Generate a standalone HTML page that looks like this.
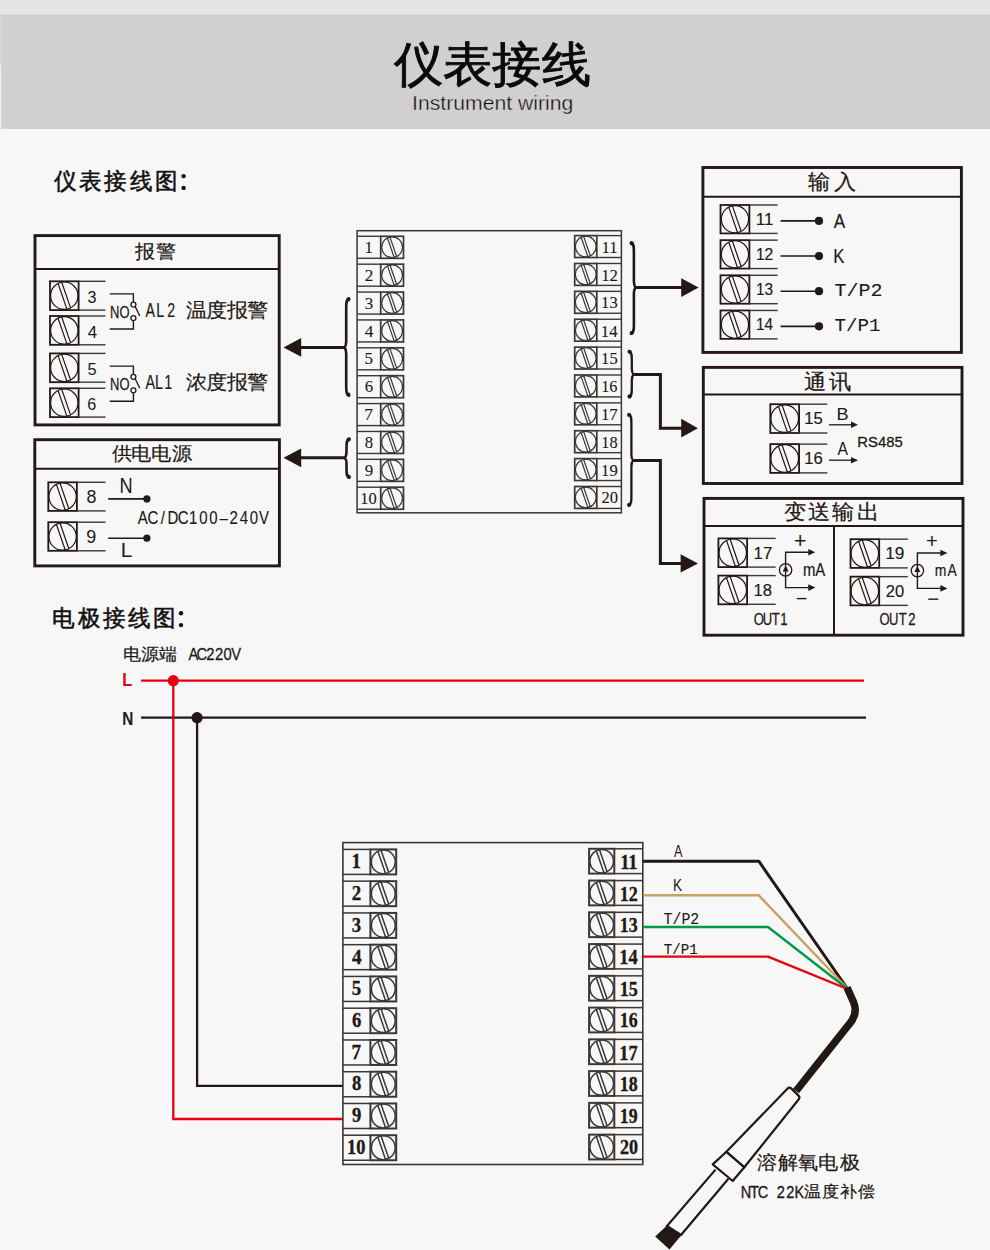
<!DOCTYPE html>
<html><head><meta charset="utf-8"><style>
html,body{margin:0;padding:0;background:#f7f7f7;}
svg{display:block;}
text{white-space:pre;}
</style></head><body>
<svg width="990" height="1250" viewBox="0 0 990 1250">
<rect width="990" height="1250" fill="#f7f7f7"/>
<rect x="0" y="0" width="990" height="14.5" fill="#e5e5e5"/>
<rect x="0" y="14.5" width="990" height="114.5" fill="#d1cfd0"/>
<rect x="0" y="14.5" width="1.2" height="50" fill="#dad8d9"/>
<rect x="0" y="64.5" width="1.2" height="64.5" fill="#efefef"/>
<circle cx="183.6" cy="176.1" r="2.2" fill="#111"/>
<circle cx="183.6" cy="187.9" r="2.2" fill="#111"/>
<circle cx="181" cy="613.2" r="2.2" fill="#111"/>
<circle cx="181" cy="625.1" r="2.2" fill="#111"/>
<rect x="35" y="235.6" width="244.2" height="189.3" stroke="#231815" stroke-width="2.9" fill="none"/>
<line x1="35" y1="268.9" x2="279.2" y2="268.9" stroke="#231815" stroke-width="2" stroke-linecap="butt"/>
<rect x="50" y="281.3" width="28.6" height="28.8" stroke="#231815" stroke-width="1.8" fill="none"/>
<circle cx="64.3" cy="295.7" r="13.7" stroke="#231815" stroke-width="1.2" fill="none"/>
<line x1="58.07" y1="283.5" x2="66.9" y2="309.15" stroke="#231815" stroke-width="1.2" stroke-linecap="butt"/>
<line x1="61.7" y1="282.25" x2="70.53" y2="307.9" stroke="#231815" stroke-width="1.2" stroke-linecap="butt"/>
<line x1="78.6" y1="281.3" x2="105.5" y2="281.3" stroke="#3b3735" stroke-width="1.4" stroke-linecap="butt"/>
<line x1="78.6" y1="310.1" x2="105.5" y2="310.1" stroke="#3b3735" stroke-width="1.4" stroke-linecap="butt"/>
<rect x="50" y="316" width="28.6" height="28.8" stroke="#231815" stroke-width="1.8" fill="none"/>
<circle cx="64.3" cy="330.4" r="13.7" stroke="#231815" stroke-width="1.2" fill="none"/>
<line x1="58.07" y1="318.2" x2="66.9" y2="343.85" stroke="#231815" stroke-width="1.2" stroke-linecap="butt"/>
<line x1="61.7" y1="316.95" x2="70.53" y2="342.6" stroke="#231815" stroke-width="1.2" stroke-linecap="butt"/>
<line x1="78.6" y1="316" x2="105.5" y2="316" stroke="#3b3735" stroke-width="1.4" stroke-linecap="butt"/>
<line x1="78.6" y1="344.8" x2="105.5" y2="344.8" stroke="#3b3735" stroke-width="1.4" stroke-linecap="butt"/>
<rect x="50" y="353.4" width="28.6" height="28.8" stroke="#231815" stroke-width="1.8" fill="none"/>
<circle cx="64.3" cy="367.8" r="13.7" stroke="#231815" stroke-width="1.2" fill="none"/>
<line x1="58.07" y1="355.6" x2="66.9" y2="381.25" stroke="#231815" stroke-width="1.2" stroke-linecap="butt"/>
<line x1="61.7" y1="354.35" x2="70.53" y2="380" stroke="#231815" stroke-width="1.2" stroke-linecap="butt"/>
<line x1="78.6" y1="353.4" x2="105.5" y2="353.4" stroke="#3b3735" stroke-width="1.4" stroke-linecap="butt"/>
<line x1="78.6" y1="382.2" x2="105.5" y2="382.2" stroke="#3b3735" stroke-width="1.4" stroke-linecap="butt"/>
<rect x="50" y="388.3" width="28.6" height="28.8" stroke="#231815" stroke-width="1.8" fill="none"/>
<circle cx="64.3" cy="402.7" r="13.7" stroke="#231815" stroke-width="1.2" fill="none"/>
<line x1="58.07" y1="390.5" x2="66.9" y2="416.15" stroke="#231815" stroke-width="1.2" stroke-linecap="butt"/>
<line x1="61.7" y1="389.25" x2="70.53" y2="414.9" stroke="#231815" stroke-width="1.2" stroke-linecap="butt"/>
<line x1="78.6" y1="388.3" x2="105.5" y2="388.3" stroke="#3b3735" stroke-width="1.4" stroke-linecap="butt"/>
<line x1="78.6" y1="417.1" x2="105.5" y2="417.1" stroke="#3b3735" stroke-width="1.4" stroke-linecap="butt"/>
<polyline points="109.7,293.9 133.4,293.9 133.4,302" stroke="#231815" stroke-width="1.4" fill="none"/>
<polyline points="109.7,329 133.4,329 133.4,320.6" stroke="#231815" stroke-width="1.4" fill="none"/>
<circle cx="133.4" cy="304.6" r="2.5" stroke="#231815" stroke-width="1.3" fill="#f7f7f7"/>
<circle cx="133.4" cy="318.1" r="2.5" stroke="#231815" stroke-width="1.3" fill="#f7f7f7"/>
<line x1="135.2" y1="306.6" x2="139.8" y2="316" stroke="#231815" stroke-width="1.3" stroke-linecap="butt"/>
<polyline points="109.7,366.1 133.4,366.1 133.4,374.2" stroke="#231815" stroke-width="1.4" fill="none"/>
<polyline points="109.7,401.2 133.4,401.2 133.4,392.8" stroke="#231815" stroke-width="1.4" fill="none"/>
<circle cx="133.4" cy="376.8" r="2.5" stroke="#231815" stroke-width="1.3" fill="#f7f7f7"/>
<circle cx="133.4" cy="390.3" r="2.5" stroke="#231815" stroke-width="1.3" fill="#f7f7f7"/>
<line x1="135.2" y1="378.8" x2="139.8" y2="388.2" stroke="#231815" stroke-width="1.3" stroke-linecap="butt"/>
<rect x="34.8" y="439.7" width="244.6" height="126.2" stroke="#231815" stroke-width="2.9" fill="none"/>
<line x1="34.8" y1="468.7" x2="279.4" y2="468.7" stroke="#231815" stroke-width="2" stroke-linecap="butt"/>
<rect x="48.3" y="482.3" width="28.6" height="28.6" stroke="#231815" stroke-width="1.8" fill="none"/>
<circle cx="62.6" cy="496.6" r="13.7" stroke="#231815" stroke-width="1.2" fill="none"/>
<line x1="56.37" y1="484.4" x2="65.2" y2="510.05" stroke="#231815" stroke-width="1.2" stroke-linecap="butt"/>
<line x1="60" y1="483.15" x2="68.83" y2="508.8" stroke="#231815" stroke-width="1.2" stroke-linecap="butt"/>
<line x1="76.9" y1="482.3" x2="105.6" y2="482.3" stroke="#3b3735" stroke-width="1.4" stroke-linecap="butt"/>
<line x1="76.9" y1="510.9" x2="105.6" y2="510.9" stroke="#3b3735" stroke-width="1.4" stroke-linecap="butt"/>
<line x1="108.2" y1="498.9" x2="146.9" y2="498.9" stroke="#231815" stroke-width="1.6" stroke-linecap="butt"/>
<circle cx="146.9" cy="498.9" r="3.6" fill="#231815"/>
<rect x="48.3" y="522.2" width="28.6" height="28.6" stroke="#231815" stroke-width="1.8" fill="none"/>
<circle cx="62.6" cy="536.5" r="13.7" stroke="#231815" stroke-width="1.2" fill="none"/>
<line x1="56.37" y1="524.3" x2="65.2" y2="549.95" stroke="#231815" stroke-width="1.2" stroke-linecap="butt"/>
<line x1="60" y1="523.05" x2="68.83" y2="548.7" stroke="#231815" stroke-width="1.2" stroke-linecap="butt"/>
<line x1="76.9" y1="522.2" x2="105.6" y2="522.2" stroke="#3b3735" stroke-width="1.4" stroke-linecap="butt"/>
<line x1="76.9" y1="550.8" x2="105.6" y2="550.8" stroke="#3b3735" stroke-width="1.4" stroke-linecap="butt"/>
<line x1="108.2" y1="538.2" x2="146.9" y2="538.2" stroke="#231815" stroke-width="1.6" stroke-linecap="butt"/>
<circle cx="146.9" cy="538.2" r="3.6" fill="#231815"/>
<rect x="357.1" y="230.7" width="264.3" height="282.1" stroke="#3b3735" stroke-width="1.5" fill="none"/>
<line x1="357.1" y1="236.3" x2="380.7" y2="236.3" stroke="#3b3735" stroke-width="1.4" stroke-linecap="butt"/>
<line x1="357.1" y1="258.3" x2="380.7" y2="258.3" stroke="#3b3735" stroke-width="1.4" stroke-linecap="butt"/>
<rect x="380.7" y="236.3" width="22.8" height="22" stroke="#3b3735" stroke-width="1.7" fill="none"/>
<circle cx="392.1" cy="247.3" r="10.4" stroke="#3b3735" stroke-width="1.2" fill="none"/>
<line x1="387.49" y1="237.98" x2="394.21" y2="257.48" stroke="#3b3735" stroke-width="1.2" stroke-linecap="butt"/>
<line x1="389.99" y1="237.12" x2="396.71" y2="256.62" stroke="#3b3735" stroke-width="1.2" stroke-linecap="butt"/>
<rect x="574.7" y="235.6" width="22.1" height="21.9" stroke="#3b3735" stroke-width="1.7" fill="none"/>
<circle cx="585.75" cy="246.55" r="10.35" stroke="#3b3735" stroke-width="1.2" fill="none"/>
<line x1="581.17" y1="237.27" x2="587.85" y2="256.68" stroke="#3b3735" stroke-width="1.2" stroke-linecap="butt"/>
<line x1="583.65" y1="236.42" x2="590.33" y2="255.83" stroke="#3b3735" stroke-width="1.2" stroke-linecap="butt"/>
<line x1="596.8" y1="235.6" x2="621.4" y2="235.6" stroke="#3b3735" stroke-width="1.4" stroke-linecap="butt"/>
<line x1="596.8" y1="257.5" x2="621.4" y2="257.5" stroke="#3b3735" stroke-width="1.4" stroke-linecap="butt"/>
<line x1="357.1" y1="264.18" x2="380.7" y2="264.18" stroke="#3b3735" stroke-width="1.4" stroke-linecap="butt"/>
<line x1="357.1" y1="286.18" x2="380.7" y2="286.18" stroke="#3b3735" stroke-width="1.4" stroke-linecap="butt"/>
<rect x="380.7" y="264.18" width="22.8" height="22" stroke="#3b3735" stroke-width="1.7" fill="none"/>
<circle cx="392.1" cy="275.18" r="10.4" stroke="#3b3735" stroke-width="1.2" fill="none"/>
<line x1="387.49" y1="265.86" x2="394.21" y2="285.36" stroke="#3b3735" stroke-width="1.2" stroke-linecap="butt"/>
<line x1="389.99" y1="265" x2="396.71" y2="284.5" stroke="#3b3735" stroke-width="1.2" stroke-linecap="butt"/>
<rect x="574.7" y="263.48" width="22.1" height="21.9" stroke="#3b3735" stroke-width="1.7" fill="none"/>
<circle cx="585.75" cy="274.43" r="10.35" stroke="#3b3735" stroke-width="1.2" fill="none"/>
<line x1="581.17" y1="265.15" x2="587.85" y2="284.56" stroke="#3b3735" stroke-width="1.2" stroke-linecap="butt"/>
<line x1="583.65" y1="264.3" x2="590.33" y2="283.71" stroke="#3b3735" stroke-width="1.2" stroke-linecap="butt"/>
<line x1="596.8" y1="263.48" x2="621.4" y2="263.48" stroke="#3b3735" stroke-width="1.4" stroke-linecap="butt"/>
<line x1="596.8" y1="285.38" x2="621.4" y2="285.38" stroke="#3b3735" stroke-width="1.4" stroke-linecap="butt"/>
<line x1="357.1" y1="292.06" x2="380.7" y2="292.06" stroke="#3b3735" stroke-width="1.4" stroke-linecap="butt"/>
<line x1="357.1" y1="314.06" x2="380.7" y2="314.06" stroke="#3b3735" stroke-width="1.4" stroke-linecap="butt"/>
<rect x="380.7" y="292.06" width="22.8" height="22" stroke="#3b3735" stroke-width="1.7" fill="none"/>
<circle cx="392.1" cy="303.06" r="10.4" stroke="#3b3735" stroke-width="1.2" fill="none"/>
<line x1="387.49" y1="293.74" x2="394.21" y2="313.24" stroke="#3b3735" stroke-width="1.2" stroke-linecap="butt"/>
<line x1="389.99" y1="292.88" x2="396.71" y2="312.38" stroke="#3b3735" stroke-width="1.2" stroke-linecap="butt"/>
<rect x="574.7" y="291.36" width="22.1" height="21.9" stroke="#3b3735" stroke-width="1.7" fill="none"/>
<circle cx="585.75" cy="302.31" r="10.35" stroke="#3b3735" stroke-width="1.2" fill="none"/>
<line x1="581.17" y1="293.03" x2="587.85" y2="312.44" stroke="#3b3735" stroke-width="1.2" stroke-linecap="butt"/>
<line x1="583.65" y1="292.18" x2="590.33" y2="311.59" stroke="#3b3735" stroke-width="1.2" stroke-linecap="butt"/>
<line x1="596.8" y1="291.36" x2="621.4" y2="291.36" stroke="#3b3735" stroke-width="1.4" stroke-linecap="butt"/>
<line x1="596.8" y1="313.26" x2="621.4" y2="313.26" stroke="#3b3735" stroke-width="1.4" stroke-linecap="butt"/>
<line x1="357.1" y1="319.94" x2="380.7" y2="319.94" stroke="#3b3735" stroke-width="1.4" stroke-linecap="butt"/>
<line x1="357.1" y1="341.94" x2="380.7" y2="341.94" stroke="#3b3735" stroke-width="1.4" stroke-linecap="butt"/>
<rect x="380.7" y="319.94" width="22.8" height="22" stroke="#3b3735" stroke-width="1.7" fill="none"/>
<circle cx="392.1" cy="330.94" r="10.4" stroke="#3b3735" stroke-width="1.2" fill="none"/>
<line x1="387.49" y1="321.62" x2="394.21" y2="341.12" stroke="#3b3735" stroke-width="1.2" stroke-linecap="butt"/>
<line x1="389.99" y1="320.76" x2="396.71" y2="340.26" stroke="#3b3735" stroke-width="1.2" stroke-linecap="butt"/>
<rect x="574.7" y="319.24" width="22.1" height="21.9" stroke="#3b3735" stroke-width="1.7" fill="none"/>
<circle cx="585.75" cy="330.19" r="10.35" stroke="#3b3735" stroke-width="1.2" fill="none"/>
<line x1="581.17" y1="320.91" x2="587.85" y2="340.32" stroke="#3b3735" stroke-width="1.2" stroke-linecap="butt"/>
<line x1="583.65" y1="320.06" x2="590.33" y2="339.47" stroke="#3b3735" stroke-width="1.2" stroke-linecap="butt"/>
<line x1="596.8" y1="319.24" x2="621.4" y2="319.24" stroke="#3b3735" stroke-width="1.4" stroke-linecap="butt"/>
<line x1="596.8" y1="341.14" x2="621.4" y2="341.14" stroke="#3b3735" stroke-width="1.4" stroke-linecap="butt"/>
<line x1="357.1" y1="347.82" x2="380.7" y2="347.82" stroke="#3b3735" stroke-width="1.4" stroke-linecap="butt"/>
<line x1="357.1" y1="369.82" x2="380.7" y2="369.82" stroke="#3b3735" stroke-width="1.4" stroke-linecap="butt"/>
<rect x="380.7" y="347.82" width="22.8" height="22" stroke="#3b3735" stroke-width="1.7" fill="none"/>
<circle cx="392.1" cy="358.82" r="10.4" stroke="#3b3735" stroke-width="1.2" fill="none"/>
<line x1="387.49" y1="349.5" x2="394.21" y2="369" stroke="#3b3735" stroke-width="1.2" stroke-linecap="butt"/>
<line x1="389.99" y1="348.64" x2="396.71" y2="368.14" stroke="#3b3735" stroke-width="1.2" stroke-linecap="butt"/>
<rect x="574.7" y="347.12" width="22.1" height="21.9" stroke="#3b3735" stroke-width="1.7" fill="none"/>
<circle cx="585.75" cy="358.07" r="10.35" stroke="#3b3735" stroke-width="1.2" fill="none"/>
<line x1="581.17" y1="348.79" x2="587.85" y2="368.2" stroke="#3b3735" stroke-width="1.2" stroke-linecap="butt"/>
<line x1="583.65" y1="347.94" x2="590.33" y2="367.35" stroke="#3b3735" stroke-width="1.2" stroke-linecap="butt"/>
<line x1="596.8" y1="347.12" x2="621.4" y2="347.12" stroke="#3b3735" stroke-width="1.4" stroke-linecap="butt"/>
<line x1="596.8" y1="369.02" x2="621.4" y2="369.02" stroke="#3b3735" stroke-width="1.4" stroke-linecap="butt"/>
<line x1="357.1" y1="375.7" x2="380.7" y2="375.7" stroke="#3b3735" stroke-width="1.4" stroke-linecap="butt"/>
<line x1="357.1" y1="397.7" x2="380.7" y2="397.7" stroke="#3b3735" stroke-width="1.4" stroke-linecap="butt"/>
<rect x="380.7" y="375.7" width="22.8" height="22" stroke="#3b3735" stroke-width="1.7" fill="none"/>
<circle cx="392.1" cy="386.7" r="10.4" stroke="#3b3735" stroke-width="1.2" fill="none"/>
<line x1="387.49" y1="377.38" x2="394.21" y2="396.88" stroke="#3b3735" stroke-width="1.2" stroke-linecap="butt"/>
<line x1="389.99" y1="376.52" x2="396.71" y2="396.02" stroke="#3b3735" stroke-width="1.2" stroke-linecap="butt"/>
<rect x="574.7" y="375" width="22.1" height="21.9" stroke="#3b3735" stroke-width="1.7" fill="none"/>
<circle cx="585.75" cy="385.95" r="10.35" stroke="#3b3735" stroke-width="1.2" fill="none"/>
<line x1="581.17" y1="376.67" x2="587.85" y2="396.08" stroke="#3b3735" stroke-width="1.2" stroke-linecap="butt"/>
<line x1="583.65" y1="375.82" x2="590.33" y2="395.23" stroke="#3b3735" stroke-width="1.2" stroke-linecap="butt"/>
<line x1="596.8" y1="375" x2="621.4" y2="375" stroke="#3b3735" stroke-width="1.4" stroke-linecap="butt"/>
<line x1="596.8" y1="396.9" x2="621.4" y2="396.9" stroke="#3b3735" stroke-width="1.4" stroke-linecap="butt"/>
<line x1="357.1" y1="403.58" x2="380.7" y2="403.58" stroke="#3b3735" stroke-width="1.4" stroke-linecap="butt"/>
<line x1="357.1" y1="425.58" x2="380.7" y2="425.58" stroke="#3b3735" stroke-width="1.4" stroke-linecap="butt"/>
<rect x="380.7" y="403.58" width="22.8" height="22" stroke="#3b3735" stroke-width="1.7" fill="none"/>
<circle cx="392.1" cy="414.58" r="10.4" stroke="#3b3735" stroke-width="1.2" fill="none"/>
<line x1="387.49" y1="405.26" x2="394.21" y2="424.76" stroke="#3b3735" stroke-width="1.2" stroke-linecap="butt"/>
<line x1="389.99" y1="404.4" x2="396.71" y2="423.9" stroke="#3b3735" stroke-width="1.2" stroke-linecap="butt"/>
<rect x="574.7" y="402.88" width="22.1" height="21.9" stroke="#3b3735" stroke-width="1.7" fill="none"/>
<circle cx="585.75" cy="413.83" r="10.35" stroke="#3b3735" stroke-width="1.2" fill="none"/>
<line x1="581.17" y1="404.55" x2="587.85" y2="423.96" stroke="#3b3735" stroke-width="1.2" stroke-linecap="butt"/>
<line x1="583.65" y1="403.7" x2="590.33" y2="423.11" stroke="#3b3735" stroke-width="1.2" stroke-linecap="butt"/>
<line x1="596.8" y1="402.88" x2="621.4" y2="402.88" stroke="#3b3735" stroke-width="1.4" stroke-linecap="butt"/>
<line x1="596.8" y1="424.78" x2="621.4" y2="424.78" stroke="#3b3735" stroke-width="1.4" stroke-linecap="butt"/>
<line x1="357.1" y1="431.46" x2="380.7" y2="431.46" stroke="#3b3735" stroke-width="1.4" stroke-linecap="butt"/>
<line x1="357.1" y1="453.46" x2="380.7" y2="453.46" stroke="#3b3735" stroke-width="1.4" stroke-linecap="butt"/>
<rect x="380.7" y="431.46" width="22.8" height="22" stroke="#3b3735" stroke-width="1.7" fill="none"/>
<circle cx="392.1" cy="442.46" r="10.4" stroke="#3b3735" stroke-width="1.2" fill="none"/>
<line x1="387.49" y1="433.14" x2="394.21" y2="452.64" stroke="#3b3735" stroke-width="1.2" stroke-linecap="butt"/>
<line x1="389.99" y1="432.28" x2="396.71" y2="451.78" stroke="#3b3735" stroke-width="1.2" stroke-linecap="butt"/>
<rect x="574.7" y="430.76" width="22.1" height="21.9" stroke="#3b3735" stroke-width="1.7" fill="none"/>
<circle cx="585.75" cy="441.71" r="10.35" stroke="#3b3735" stroke-width="1.2" fill="none"/>
<line x1="581.17" y1="432.43" x2="587.85" y2="451.84" stroke="#3b3735" stroke-width="1.2" stroke-linecap="butt"/>
<line x1="583.65" y1="431.58" x2="590.33" y2="450.99" stroke="#3b3735" stroke-width="1.2" stroke-linecap="butt"/>
<line x1="596.8" y1="430.76" x2="621.4" y2="430.76" stroke="#3b3735" stroke-width="1.4" stroke-linecap="butt"/>
<line x1="596.8" y1="452.66" x2="621.4" y2="452.66" stroke="#3b3735" stroke-width="1.4" stroke-linecap="butt"/>
<line x1="357.1" y1="459.34" x2="380.7" y2="459.34" stroke="#3b3735" stroke-width="1.4" stroke-linecap="butt"/>
<line x1="357.1" y1="481.34" x2="380.7" y2="481.34" stroke="#3b3735" stroke-width="1.4" stroke-linecap="butt"/>
<rect x="380.7" y="459.34" width="22.8" height="22" stroke="#3b3735" stroke-width="1.7" fill="none"/>
<circle cx="392.1" cy="470.34" r="10.4" stroke="#3b3735" stroke-width="1.2" fill="none"/>
<line x1="387.49" y1="461.02" x2="394.21" y2="480.52" stroke="#3b3735" stroke-width="1.2" stroke-linecap="butt"/>
<line x1="389.99" y1="460.16" x2="396.71" y2="479.66" stroke="#3b3735" stroke-width="1.2" stroke-linecap="butt"/>
<rect x="574.7" y="458.64" width="22.1" height="21.9" stroke="#3b3735" stroke-width="1.7" fill="none"/>
<circle cx="585.75" cy="469.59" r="10.35" stroke="#3b3735" stroke-width="1.2" fill="none"/>
<line x1="581.17" y1="460.31" x2="587.85" y2="479.72" stroke="#3b3735" stroke-width="1.2" stroke-linecap="butt"/>
<line x1="583.65" y1="459.46" x2="590.33" y2="478.87" stroke="#3b3735" stroke-width="1.2" stroke-linecap="butt"/>
<line x1="596.8" y1="458.64" x2="621.4" y2="458.64" stroke="#3b3735" stroke-width="1.4" stroke-linecap="butt"/>
<line x1="596.8" y1="480.54" x2="621.4" y2="480.54" stroke="#3b3735" stroke-width="1.4" stroke-linecap="butt"/>
<line x1="357.1" y1="487.22" x2="380.7" y2="487.22" stroke="#3b3735" stroke-width="1.4" stroke-linecap="butt"/>
<line x1="357.1" y1="509.22" x2="380.7" y2="509.22" stroke="#3b3735" stroke-width="1.4" stroke-linecap="butt"/>
<rect x="380.7" y="487.22" width="22.8" height="22" stroke="#3b3735" stroke-width="1.7" fill="none"/>
<circle cx="392.1" cy="498.22" r="10.4" stroke="#3b3735" stroke-width="1.2" fill="none"/>
<line x1="387.49" y1="488.9" x2="394.21" y2="508.4" stroke="#3b3735" stroke-width="1.2" stroke-linecap="butt"/>
<line x1="389.99" y1="488.04" x2="396.71" y2="507.54" stroke="#3b3735" stroke-width="1.2" stroke-linecap="butt"/>
<rect x="574.7" y="486.52" width="22.1" height="21.9" stroke="#3b3735" stroke-width="1.7" fill="none"/>
<circle cx="585.75" cy="497.47" r="10.35" stroke="#3b3735" stroke-width="1.2" fill="none"/>
<line x1="581.17" y1="488.19" x2="587.85" y2="507.6" stroke="#3b3735" stroke-width="1.2" stroke-linecap="butt"/>
<line x1="583.65" y1="487.34" x2="590.33" y2="506.75" stroke="#3b3735" stroke-width="1.2" stroke-linecap="butt"/>
<line x1="596.8" y1="486.52" x2="621.4" y2="486.52" stroke="#3b3735" stroke-width="1.4" stroke-linecap="butt"/>
<line x1="596.8" y1="508.42" x2="621.4" y2="508.42" stroke="#3b3735" stroke-width="1.4" stroke-linecap="butt"/>
<path d="M 349 298.5 C 346.2 299.5 346.2 302.5 346.2 307.5 L 346.2 341.4 C 346.2 345.4 344.6 347.4 344.6 347.4 C 344.6 347.4 346.2 349.4 346.2 353.4 L 346.2 386.5 C 346.2 391.5 346.2 394.5 349 395.5" stroke="#231815" stroke-width="2.6" fill="none" stroke-linecap="round"/>
<circle cx="348.4" cy="299.3" r="2.1" fill="#231815"/>
<circle cx="348.4" cy="394.7" r="2.1" fill="#231815"/>
<line x1="300.2" y1="347.4" x2="344.6" y2="347.4" stroke="#231815" stroke-width="3" stroke-linecap="butt"/>
<polygon points="301.2,338 283.5,347.4 301.2,356.8" fill="#231815"/>
<path d="M 349.3 438.7 C 346.5 439.7 346.5 442.7 346.5 447.7 L 346.5 451.8 C 346.5 455.8 344.9 457.8 344.9 457.8 C 344.9 457.8 346.5 459.8 346.5 463.8 L 346.5 468.6 C 346.5 473.6 346.5 476.6 349.3 477.6" stroke="#231815" stroke-width="2.6" fill="none" stroke-linecap="round"/>
<circle cx="348.7" cy="439.5" r="2.1" fill="#231815"/>
<circle cx="348.7" cy="476.8" r="2.1" fill="#231815"/>
<line x1="300.2" y1="457.8" x2="344.9" y2="457.8" stroke="#231815" stroke-width="3" stroke-linecap="butt"/>
<polygon points="301.2,448.4 283.5,457.8 301.2,467.2" fill="#231815"/>
<path d="M 631.1 242.5 C 633.9 243.5 633.9 246.5 633.9 251.5 L 633.9 281.6 C 633.9 285.6 635.5 287.6 635.5 287.6 C 635.5 287.6 633.9 289.6 633.9 293.6 L 633.9 324.8 C 633.9 329.8 633.9 332.8 631.1 333.8" stroke="#231815" stroke-width="2.6" fill="none" stroke-linecap="round"/>
<circle cx="631.7" cy="243.3" r="2.1" fill="#231815"/>
<circle cx="631.7" cy="333" r="2.1" fill="#231815"/>
<line x1="635.5" y1="287.6" x2="682.2" y2="287.6" stroke="#231815" stroke-width="3" stroke-linecap="butt"/>
<polygon points="681.2,278.2 698.6,287.6 681.2,297" fill="#231815"/>
<path d="M 629 351 C 631.8 352 631.8 355 631.8 360 L 631.8 368.5 C 631.8 372.5 633.4 374.5 633.4 374.5 C 633.4 374.5 631.8 376.5 631.8 380.5 L 631.8 388.2 C 631.8 393.2 631.8 396.2 629 397.2" stroke="#231815" stroke-width="2.3" fill="none" stroke-linecap="round"/>
<circle cx="629.6" cy="351.8" r="2.1" fill="#231815"/>
<circle cx="629.6" cy="396.4" r="2.1" fill="#231815"/>
<polyline points="634,374.5 660.4,374.5 660.4,428.2 682,428.2" stroke="#231815" stroke-width="3" fill="none"/>
<polygon points="681.2,418.8 697.9,428.2 681.2,437.6" fill="#231815"/>
<path d="M 628.6 414.2 C 631.4 415.2 631.4 418.2 631.4 423.2 L 631.4 454.5 C 631.4 458.5 633 460.5 633 460.5 C 633 460.5 631.4 462.5 631.4 466.5 L 631.4 496.6 C 631.4 501.6 631.4 504.6 628.6 505.6" stroke="#231815" stroke-width="2.3" fill="none" stroke-linecap="round"/>
<circle cx="629.2" cy="415" r="2.1" fill="#231815"/>
<circle cx="629.2" cy="504.8" r="2.1" fill="#231815"/>
<polyline points="634,460.5 660.4,460.5 660.4,563.4 681.5,563.4" stroke="#231815" stroke-width="3" fill="none"/>
<polygon points="680.6,554.2 698,563.4 680.6,572.6" fill="#231815"/>
<rect x="702.9" y="167.5" width="258.5" height="184.9" stroke="#231815" stroke-width="2.9" fill="none"/>
<line x1="702.9" y1="196.7" x2="961.4" y2="196.7" stroke="#231815" stroke-width="2" stroke-linecap="butt"/>
<rect x="720.5" y="205" width="28.9" height="28.4" stroke="#231815" stroke-width="1.8" fill="none"/>
<circle cx="734.95" cy="219.2" r="13.6" stroke="#231815" stroke-width="1.2" fill="none"/>
<line x1="728.77" y1="207.09" x2="737.54" y2="232.55" stroke="#231815" stroke-width="1.2" stroke-linecap="butt"/>
<line x1="732.36" y1="205.85" x2="741.13" y2="231.31" stroke="#231815" stroke-width="1.2" stroke-linecap="butt"/>
<line x1="749.4" y1="205" x2="777.7" y2="205" stroke="#3b3735" stroke-width="1.4" stroke-linecap="butt"/>
<line x1="749.4" y1="233.4" x2="777.7" y2="233.4" stroke="#3b3735" stroke-width="1.4" stroke-linecap="butt"/>
<line x1="780.6" y1="220.9" x2="819" y2="220.9" stroke="#231815" stroke-width="1.6" stroke-linecap="butt"/>
<circle cx="819" cy="220.9" r="4.1" fill="#231815"/>
<rect x="720.5" y="240.15" width="28.9" height="28.4" stroke="#231815" stroke-width="1.8" fill="none"/>
<circle cx="734.95" cy="254.35" r="13.6" stroke="#231815" stroke-width="1.2" fill="none"/>
<line x1="728.77" y1="242.24" x2="737.54" y2="267.7" stroke="#231815" stroke-width="1.2" stroke-linecap="butt"/>
<line x1="732.36" y1="241" x2="741.13" y2="266.46" stroke="#231815" stroke-width="1.2" stroke-linecap="butt"/>
<line x1="749.4" y1="240.15" x2="777.7" y2="240.15" stroke="#3b3735" stroke-width="1.4" stroke-linecap="butt"/>
<line x1="749.4" y1="268.55" x2="777.7" y2="268.55" stroke="#3b3735" stroke-width="1.4" stroke-linecap="butt"/>
<line x1="780.6" y1="256.05" x2="819" y2="256.05" stroke="#231815" stroke-width="1.6" stroke-linecap="butt"/>
<circle cx="819" cy="256.05" r="4.1" fill="#231815"/>
<rect x="720.5" y="275.3" width="28.9" height="28.4" stroke="#231815" stroke-width="1.8" fill="none"/>
<circle cx="734.95" cy="289.5" r="13.6" stroke="#231815" stroke-width="1.2" fill="none"/>
<line x1="728.77" y1="277.39" x2="737.54" y2="302.85" stroke="#231815" stroke-width="1.2" stroke-linecap="butt"/>
<line x1="732.36" y1="276.15" x2="741.13" y2="301.61" stroke="#231815" stroke-width="1.2" stroke-linecap="butt"/>
<line x1="749.4" y1="275.3" x2="777.7" y2="275.3" stroke="#3b3735" stroke-width="1.4" stroke-linecap="butt"/>
<line x1="749.4" y1="303.7" x2="777.7" y2="303.7" stroke="#3b3735" stroke-width="1.4" stroke-linecap="butt"/>
<line x1="780.6" y1="291.2" x2="819" y2="291.2" stroke="#231815" stroke-width="1.6" stroke-linecap="butt"/>
<circle cx="819" cy="291.2" r="4.1" fill="#231815"/>
<rect x="720.5" y="310.45" width="28.9" height="28.4" stroke="#231815" stroke-width="1.8" fill="none"/>
<circle cx="734.95" cy="324.65" r="13.6" stroke="#231815" stroke-width="1.2" fill="none"/>
<line x1="728.77" y1="312.54" x2="737.54" y2="338" stroke="#231815" stroke-width="1.2" stroke-linecap="butt"/>
<line x1="732.36" y1="311.3" x2="741.13" y2="336.76" stroke="#231815" stroke-width="1.2" stroke-linecap="butt"/>
<line x1="749.4" y1="310.45" x2="777.7" y2="310.45" stroke="#3b3735" stroke-width="1.4" stroke-linecap="butt"/>
<line x1="749.4" y1="338.85" x2="777.7" y2="338.85" stroke="#3b3735" stroke-width="1.4" stroke-linecap="butt"/>
<line x1="780.6" y1="326.35" x2="819" y2="326.35" stroke="#231815" stroke-width="1.6" stroke-linecap="butt"/>
<circle cx="819" cy="326.35" r="4.1" fill="#231815"/>
<rect x="703.3" y="367.4" width="258.7" height="116.1" stroke="#231815" stroke-width="2.9" fill="none"/>
<line x1="703.3" y1="394.6" x2="962" y2="394.6" stroke="#231815" stroke-width="2" stroke-linecap="butt"/>
<rect x="770.3" y="404.2" width="28.8" height="28.8" stroke="#231815" stroke-width="1.8" fill="none"/>
<circle cx="784.7" cy="418.6" r="13.8" stroke="#231815" stroke-width="1.2" fill="none"/>
<line x1="778.43" y1="406.31" x2="787.32" y2="432.15" stroke="#231815" stroke-width="1.2" stroke-linecap="butt"/>
<line x1="782.08" y1="405.05" x2="790.97" y2="430.89" stroke="#231815" stroke-width="1.2" stroke-linecap="butt"/>
<line x1="799.1" y1="404.2" x2="827.4" y2="404.2" stroke="#3b3735" stroke-width="1.4" stroke-linecap="butt"/>
<line x1="799.1" y1="433" x2="827.4" y2="433" stroke="#3b3735" stroke-width="1.4" stroke-linecap="butt"/>
<rect x="770.3" y="444.1" width="28.8" height="28.8" stroke="#231815" stroke-width="1.8" fill="none"/>
<circle cx="784.7" cy="458.5" r="13.8" stroke="#231815" stroke-width="1.2" fill="none"/>
<line x1="778.43" y1="446.21" x2="787.32" y2="472.05" stroke="#231815" stroke-width="1.2" stroke-linecap="butt"/>
<line x1="782.08" y1="444.95" x2="790.97" y2="470.79" stroke="#231815" stroke-width="1.2" stroke-linecap="butt"/>
<line x1="799.1" y1="444.1" x2="827.4" y2="444.1" stroke="#3b3735" stroke-width="1.4" stroke-linecap="butt"/>
<line x1="799.1" y1="472.9" x2="827.4" y2="472.9" stroke="#3b3735" stroke-width="1.4" stroke-linecap="butt"/>
<line x1="829" y1="424.8" x2="852" y2="424.8" stroke="#231815" stroke-width="1.3" stroke-linecap="butt"/>
<polygon points="851,421.6 858,424.8 851,428" fill="#231815"/>
<line x1="829" y1="460.2" x2="852" y2="460.2" stroke="#231815" stroke-width="1.3" stroke-linecap="butt"/>
<polygon points="851,457 858,460.2 851,463.4" fill="#231815"/>
<rect x="704" y="498.4" width="259" height="136.8" stroke="#231815" stroke-width="2.9" fill="none"/>
<line x1="704" y1="525.9" x2="963" y2="525.9" stroke="#231815" stroke-width="2" stroke-linecap="butt"/>
<line x1="834" y1="525.9" x2="834" y2="635.2" stroke="#231815" stroke-width="2" stroke-linecap="butt"/>
<rect x="718.4" y="538.4" width="28.7" height="28.7" stroke="#231815" stroke-width="1.8" fill="none"/>
<circle cx="732.75" cy="552.75" r="13.75" stroke="#231815" stroke-width="1.2" fill="none"/>
<line x1="726.5" y1="540.5" x2="735.36" y2="566.25" stroke="#231815" stroke-width="1.2" stroke-linecap="butt"/>
<line x1="730.14" y1="539.25" x2="739" y2="565" stroke="#231815" stroke-width="1.2" stroke-linecap="butt"/>
<line x1="747.1" y1="538.4" x2="775.7" y2="538.4" stroke="#3b3735" stroke-width="1.4" stroke-linecap="butt"/>
<line x1="747.1" y1="567.1" x2="775.7" y2="567.1" stroke="#3b3735" stroke-width="1.4" stroke-linecap="butt"/>
<rect x="718.4" y="575.6" width="28.7" height="28.7" stroke="#231815" stroke-width="1.8" fill="none"/>
<circle cx="732.75" cy="589.95" r="13.75" stroke="#231815" stroke-width="1.2" fill="none"/>
<line x1="726.5" y1="577.7" x2="735.36" y2="603.45" stroke="#231815" stroke-width="1.2" stroke-linecap="butt"/>
<line x1="730.14" y1="576.45" x2="739" y2="602.2" stroke="#231815" stroke-width="1.2" stroke-linecap="butt"/>
<line x1="747.1" y1="575.6" x2="775.7" y2="575.6" stroke="#3b3735" stroke-width="1.4" stroke-linecap="butt"/>
<line x1="747.1" y1="604.3" x2="775.7" y2="604.3" stroke="#3b3735" stroke-width="1.4" stroke-linecap="butt"/>
<polyline points="809.3,552.2 785.6,552.2 785.6,587.6 809.3,587.6" stroke="#231815" stroke-width="1.4" fill="none"/>
<polygon points="808.3,548.9 815.3,552.2 808.3,555.5" fill="#231815"/>
<polygon points="808.3,584.3 815.3,587.6 808.3,590.9" fill="#231815"/>
<circle cx="785.6" cy="569.9" r="6.2" stroke="#231815" stroke-width="1.3" fill="none"/>
<polygon points="782.6,571.4 785.6,565.4 788.6,571.4" fill="#231815"/>
<line x1="796.9" y1="598.6" x2="806.4" y2="598.6" stroke="#231815" stroke-width="1.4" stroke-linecap="butt"/>
<rect x="850.5" y="539.19" width="28.7" height="28.7" stroke="#231815" stroke-width="1.8" fill="none"/>
<circle cx="864.85" cy="553.54" r="13.75" stroke="#231815" stroke-width="1.2" fill="none"/>
<line x1="858.6" y1="541.29" x2="867.46" y2="567.04" stroke="#231815" stroke-width="1.2" stroke-linecap="butt"/>
<line x1="862.24" y1="540.04" x2="871.1" y2="565.79" stroke="#231815" stroke-width="1.2" stroke-linecap="butt"/>
<line x1="879.2" y1="539.19" x2="907.8" y2="539.19" stroke="#3b3735" stroke-width="1.4" stroke-linecap="butt"/>
<line x1="879.2" y1="567.89" x2="907.8" y2="567.89" stroke="#3b3735" stroke-width="1.4" stroke-linecap="butt"/>
<rect x="850.5" y="576.66" width="28.7" height="28.7" stroke="#231815" stroke-width="1.8" fill="none"/>
<circle cx="864.85" cy="591.01" r="13.75" stroke="#231815" stroke-width="1.2" fill="none"/>
<line x1="858.6" y1="578.76" x2="867.46" y2="604.51" stroke="#231815" stroke-width="1.2" stroke-linecap="butt"/>
<line x1="862.24" y1="577.51" x2="871.1" y2="603.25" stroke="#231815" stroke-width="1.2" stroke-linecap="butt"/>
<line x1="879.2" y1="576.66" x2="907.8" y2="576.66" stroke="#3b3735" stroke-width="1.4" stroke-linecap="butt"/>
<line x1="879.2" y1="605.36" x2="907.8" y2="605.36" stroke="#3b3735" stroke-width="1.4" stroke-linecap="butt"/>
<polyline points="941.4,553 917.4,553 917.4,588.4 941.4,588.4" stroke="#231815" stroke-width="1.4" fill="none"/>
<polygon points="940.4,549.7 947.4,553 940.4,556.3" fill="#231815"/>
<polygon points="940.4,585.1 947.4,588.4 940.4,591.7" fill="#231815"/>
<circle cx="917.4" cy="570.6" r="6.2" stroke="#231815" stroke-width="1.3" fill="none"/>
<polygon points="914.4,572.1 917.4,566.1 920.4,572.1" fill="#231815"/>
<line x1="928.3" y1="599.2" x2="938.2" y2="599.2" stroke="#231815" stroke-width="1.4" stroke-linecap="butt"/>
<line x1="141.1" y1="680.7" x2="864" y2="680.7" stroke="#e60012" stroke-width="2.3" stroke-linecap="butt"/>
<line x1="141.1" y1="717.7" x2="866" y2="717.7" stroke="#231815" stroke-width="2.3" stroke-linecap="butt"/>
<polyline points="173.3,680.7 173.3,1119 343,1119" stroke="#e60012" stroke-width="2.3" fill="none"/>
<polyline points="197.1,717.7 197.1,1085.8 343,1085.8" stroke="#231815" stroke-width="2.3" fill="none"/>
<circle cx="173.3" cy="680.7" r="5.6" fill="#e60012"/>
<circle cx="197.1" cy="717.7" r="5.6" fill="#231815"/>
<rect x="342.9" y="842.6" width="299.9" height="321.9" stroke="#3b3735" stroke-width="1.6" fill="none"/>
<line x1="342.9" y1="849.4" x2="370.4" y2="849.4" stroke="#3b3735" stroke-width="1.5" stroke-linecap="butt"/>
<line x1="342.9" y1="874.4" x2="370.4" y2="874.4" stroke="#3b3735" stroke-width="1.5" stroke-linecap="butt"/>
<rect x="370.4" y="849.4" width="25.8" height="25" stroke="#3b3735" stroke-width="2" fill="none"/>
<circle cx="383.3" cy="861.9" r="11.9" stroke="#3b3735" stroke-width="1.5" fill="none"/>
<line x1="377.88" y1="851.31" x2="385.55" y2="873.58" stroke="#3b3735" stroke-width="1.5" stroke-linecap="butt"/>
<line x1="381.05" y1="850.22" x2="388.72" y2="872.49" stroke="#3b3735" stroke-width="1.5" stroke-linecap="butt"/>
<rect x="589.1" y="848.8" width="25.2" height="24.8" stroke="#3b3735" stroke-width="2" fill="none"/>
<circle cx="601.7" cy="861.2" r="11.8" stroke="#3b3735" stroke-width="1.5" fill="none"/>
<line x1="596.33" y1="850.7" x2="603.93" y2="872.79" stroke="#3b3735" stroke-width="1.5" stroke-linecap="butt"/>
<line x1="599.47" y1="849.61" x2="607.07" y2="871.7" stroke="#3b3735" stroke-width="1.5" stroke-linecap="butt"/>
<line x1="614.3" y1="848.8" x2="642.8" y2="848.8" stroke="#3b3735" stroke-width="1.5" stroke-linecap="butt"/>
<line x1="614.3" y1="873.6" x2="642.8" y2="873.6" stroke="#3b3735" stroke-width="1.5" stroke-linecap="butt"/>
<line x1="342.9" y1="881.16" x2="370.4" y2="881.16" stroke="#3b3735" stroke-width="1.5" stroke-linecap="butt"/>
<line x1="342.9" y1="906.16" x2="370.4" y2="906.16" stroke="#3b3735" stroke-width="1.5" stroke-linecap="butt"/>
<rect x="370.4" y="881.16" width="25.8" height="25" stroke="#3b3735" stroke-width="2" fill="none"/>
<circle cx="383.3" cy="893.66" r="11.9" stroke="#3b3735" stroke-width="1.5" fill="none"/>
<line x1="377.88" y1="883.07" x2="385.55" y2="905.34" stroke="#3b3735" stroke-width="1.5" stroke-linecap="butt"/>
<line x1="381.05" y1="881.98" x2="388.72" y2="904.25" stroke="#3b3735" stroke-width="1.5" stroke-linecap="butt"/>
<rect x="589.1" y="880.56" width="25.2" height="24.8" stroke="#3b3735" stroke-width="2" fill="none"/>
<circle cx="601.7" cy="892.96" r="11.8" stroke="#3b3735" stroke-width="1.5" fill="none"/>
<line x1="596.33" y1="882.46" x2="603.93" y2="904.55" stroke="#3b3735" stroke-width="1.5" stroke-linecap="butt"/>
<line x1="599.47" y1="881.37" x2="607.07" y2="903.46" stroke="#3b3735" stroke-width="1.5" stroke-linecap="butt"/>
<line x1="614.3" y1="880.56" x2="642.8" y2="880.56" stroke="#3b3735" stroke-width="1.5" stroke-linecap="butt"/>
<line x1="614.3" y1="905.36" x2="642.8" y2="905.36" stroke="#3b3735" stroke-width="1.5" stroke-linecap="butt"/>
<line x1="342.9" y1="912.92" x2="370.4" y2="912.92" stroke="#3b3735" stroke-width="1.5" stroke-linecap="butt"/>
<line x1="342.9" y1="937.92" x2="370.4" y2="937.92" stroke="#3b3735" stroke-width="1.5" stroke-linecap="butt"/>
<rect x="370.4" y="912.92" width="25.8" height="25" stroke="#3b3735" stroke-width="2" fill="none"/>
<circle cx="383.3" cy="925.42" r="11.9" stroke="#3b3735" stroke-width="1.5" fill="none"/>
<line x1="377.88" y1="914.83" x2="385.55" y2="937.1" stroke="#3b3735" stroke-width="1.5" stroke-linecap="butt"/>
<line x1="381.05" y1="913.74" x2="388.72" y2="936.01" stroke="#3b3735" stroke-width="1.5" stroke-linecap="butt"/>
<rect x="589.1" y="912.32" width="25.2" height="24.8" stroke="#3b3735" stroke-width="2" fill="none"/>
<circle cx="601.7" cy="924.72" r="11.8" stroke="#3b3735" stroke-width="1.5" fill="none"/>
<line x1="596.33" y1="914.22" x2="603.93" y2="936.31" stroke="#3b3735" stroke-width="1.5" stroke-linecap="butt"/>
<line x1="599.47" y1="913.13" x2="607.07" y2="935.22" stroke="#3b3735" stroke-width="1.5" stroke-linecap="butt"/>
<line x1="614.3" y1="912.32" x2="642.8" y2="912.32" stroke="#3b3735" stroke-width="1.5" stroke-linecap="butt"/>
<line x1="614.3" y1="937.12" x2="642.8" y2="937.12" stroke="#3b3735" stroke-width="1.5" stroke-linecap="butt"/>
<line x1="342.9" y1="944.68" x2="370.4" y2="944.68" stroke="#3b3735" stroke-width="1.5" stroke-linecap="butt"/>
<line x1="342.9" y1="969.68" x2="370.4" y2="969.68" stroke="#3b3735" stroke-width="1.5" stroke-linecap="butt"/>
<rect x="370.4" y="944.68" width="25.8" height="25" stroke="#3b3735" stroke-width="2" fill="none"/>
<circle cx="383.3" cy="957.18" r="11.9" stroke="#3b3735" stroke-width="1.5" fill="none"/>
<line x1="377.88" y1="946.59" x2="385.55" y2="968.86" stroke="#3b3735" stroke-width="1.5" stroke-linecap="butt"/>
<line x1="381.05" y1="945.5" x2="388.72" y2="967.77" stroke="#3b3735" stroke-width="1.5" stroke-linecap="butt"/>
<rect x="589.1" y="944.08" width="25.2" height="24.8" stroke="#3b3735" stroke-width="2" fill="none"/>
<circle cx="601.7" cy="956.48" r="11.8" stroke="#3b3735" stroke-width="1.5" fill="none"/>
<line x1="596.33" y1="945.98" x2="603.93" y2="968.07" stroke="#3b3735" stroke-width="1.5" stroke-linecap="butt"/>
<line x1="599.47" y1="944.89" x2="607.07" y2="966.98" stroke="#3b3735" stroke-width="1.5" stroke-linecap="butt"/>
<line x1="614.3" y1="944.08" x2="642.8" y2="944.08" stroke="#3b3735" stroke-width="1.5" stroke-linecap="butt"/>
<line x1="614.3" y1="968.88" x2="642.8" y2="968.88" stroke="#3b3735" stroke-width="1.5" stroke-linecap="butt"/>
<line x1="342.9" y1="976.44" x2="370.4" y2="976.44" stroke="#3b3735" stroke-width="1.5" stroke-linecap="butt"/>
<line x1="342.9" y1="1001.44" x2="370.4" y2="1001.44" stroke="#3b3735" stroke-width="1.5" stroke-linecap="butt"/>
<rect x="370.4" y="976.44" width="25.8" height="25" stroke="#3b3735" stroke-width="2" fill="none"/>
<circle cx="383.3" cy="988.94" r="11.9" stroke="#3b3735" stroke-width="1.5" fill="none"/>
<line x1="377.88" y1="978.35" x2="385.55" y2="1000.62" stroke="#3b3735" stroke-width="1.5" stroke-linecap="butt"/>
<line x1="381.05" y1="977.26" x2="388.72" y2="999.53" stroke="#3b3735" stroke-width="1.5" stroke-linecap="butt"/>
<rect x="589.1" y="975.84" width="25.2" height="24.8" stroke="#3b3735" stroke-width="2" fill="none"/>
<circle cx="601.7" cy="988.24" r="11.8" stroke="#3b3735" stroke-width="1.5" fill="none"/>
<line x1="596.33" y1="977.74" x2="603.93" y2="999.83" stroke="#3b3735" stroke-width="1.5" stroke-linecap="butt"/>
<line x1="599.47" y1="976.65" x2="607.07" y2="998.74" stroke="#3b3735" stroke-width="1.5" stroke-linecap="butt"/>
<line x1="614.3" y1="975.84" x2="642.8" y2="975.84" stroke="#3b3735" stroke-width="1.5" stroke-linecap="butt"/>
<line x1="614.3" y1="1000.64" x2="642.8" y2="1000.64" stroke="#3b3735" stroke-width="1.5" stroke-linecap="butt"/>
<line x1="342.9" y1="1008.2" x2="370.4" y2="1008.2" stroke="#3b3735" stroke-width="1.5" stroke-linecap="butt"/>
<line x1="342.9" y1="1033.2" x2="370.4" y2="1033.2" stroke="#3b3735" stroke-width="1.5" stroke-linecap="butt"/>
<rect x="370.4" y="1008.2" width="25.8" height="25" stroke="#3b3735" stroke-width="2" fill="none"/>
<circle cx="383.3" cy="1020.7" r="11.9" stroke="#3b3735" stroke-width="1.5" fill="none"/>
<line x1="377.88" y1="1010.11" x2="385.55" y2="1032.38" stroke="#3b3735" stroke-width="1.5" stroke-linecap="butt"/>
<line x1="381.05" y1="1009.02" x2="388.72" y2="1031.29" stroke="#3b3735" stroke-width="1.5" stroke-linecap="butt"/>
<rect x="589.1" y="1007.6" width="25.2" height="24.8" stroke="#3b3735" stroke-width="2" fill="none"/>
<circle cx="601.7" cy="1020" r="11.8" stroke="#3b3735" stroke-width="1.5" fill="none"/>
<line x1="596.33" y1="1009.5" x2="603.93" y2="1031.59" stroke="#3b3735" stroke-width="1.5" stroke-linecap="butt"/>
<line x1="599.47" y1="1008.41" x2="607.07" y2="1030.5" stroke="#3b3735" stroke-width="1.5" stroke-linecap="butt"/>
<line x1="614.3" y1="1007.6" x2="642.8" y2="1007.6" stroke="#3b3735" stroke-width="1.5" stroke-linecap="butt"/>
<line x1="614.3" y1="1032.4" x2="642.8" y2="1032.4" stroke="#3b3735" stroke-width="1.5" stroke-linecap="butt"/>
<line x1="342.9" y1="1039.96" x2="370.4" y2="1039.96" stroke="#3b3735" stroke-width="1.5" stroke-linecap="butt"/>
<line x1="342.9" y1="1064.96" x2="370.4" y2="1064.96" stroke="#3b3735" stroke-width="1.5" stroke-linecap="butt"/>
<rect x="370.4" y="1039.96" width="25.8" height="25" stroke="#3b3735" stroke-width="2" fill="none"/>
<circle cx="383.3" cy="1052.46" r="11.9" stroke="#3b3735" stroke-width="1.5" fill="none"/>
<line x1="377.88" y1="1041.87" x2="385.55" y2="1064.14" stroke="#3b3735" stroke-width="1.5" stroke-linecap="butt"/>
<line x1="381.05" y1="1040.78" x2="388.72" y2="1063.05" stroke="#3b3735" stroke-width="1.5" stroke-linecap="butt"/>
<rect x="589.1" y="1039.36" width="25.2" height="24.8" stroke="#3b3735" stroke-width="2" fill="none"/>
<circle cx="601.7" cy="1051.76" r="11.8" stroke="#3b3735" stroke-width="1.5" fill="none"/>
<line x1="596.33" y1="1041.26" x2="603.93" y2="1063.35" stroke="#3b3735" stroke-width="1.5" stroke-linecap="butt"/>
<line x1="599.47" y1="1040.17" x2="607.07" y2="1062.26" stroke="#3b3735" stroke-width="1.5" stroke-linecap="butt"/>
<line x1="614.3" y1="1039.36" x2="642.8" y2="1039.36" stroke="#3b3735" stroke-width="1.5" stroke-linecap="butt"/>
<line x1="614.3" y1="1064.16" x2="642.8" y2="1064.16" stroke="#3b3735" stroke-width="1.5" stroke-linecap="butt"/>
<line x1="342.9" y1="1071.72" x2="370.4" y2="1071.72" stroke="#3b3735" stroke-width="1.5" stroke-linecap="butt"/>
<line x1="342.9" y1="1096.72" x2="370.4" y2="1096.72" stroke="#3b3735" stroke-width="1.5" stroke-linecap="butt"/>
<rect x="370.4" y="1071.72" width="25.8" height="25" stroke="#3b3735" stroke-width="2" fill="none"/>
<circle cx="383.3" cy="1084.22" r="11.9" stroke="#3b3735" stroke-width="1.5" fill="none"/>
<line x1="377.88" y1="1073.63" x2="385.55" y2="1095.9" stroke="#3b3735" stroke-width="1.5" stroke-linecap="butt"/>
<line x1="381.05" y1="1072.54" x2="388.72" y2="1094.81" stroke="#3b3735" stroke-width="1.5" stroke-linecap="butt"/>
<rect x="589.1" y="1071.12" width="25.2" height="24.8" stroke="#3b3735" stroke-width="2" fill="none"/>
<circle cx="601.7" cy="1083.52" r="11.8" stroke="#3b3735" stroke-width="1.5" fill="none"/>
<line x1="596.33" y1="1073.02" x2="603.93" y2="1095.11" stroke="#3b3735" stroke-width="1.5" stroke-linecap="butt"/>
<line x1="599.47" y1="1071.93" x2="607.07" y2="1094.02" stroke="#3b3735" stroke-width="1.5" stroke-linecap="butt"/>
<line x1="614.3" y1="1071.12" x2="642.8" y2="1071.12" stroke="#3b3735" stroke-width="1.5" stroke-linecap="butt"/>
<line x1="614.3" y1="1095.92" x2="642.8" y2="1095.92" stroke="#3b3735" stroke-width="1.5" stroke-linecap="butt"/>
<line x1="342.9" y1="1103.48" x2="370.4" y2="1103.48" stroke="#3b3735" stroke-width="1.5" stroke-linecap="butt"/>
<line x1="342.9" y1="1128.48" x2="370.4" y2="1128.48" stroke="#3b3735" stroke-width="1.5" stroke-linecap="butt"/>
<rect x="370.4" y="1103.48" width="25.8" height="25" stroke="#3b3735" stroke-width="2" fill="none"/>
<circle cx="383.3" cy="1115.98" r="11.9" stroke="#3b3735" stroke-width="1.5" fill="none"/>
<line x1="377.88" y1="1105.39" x2="385.55" y2="1127.66" stroke="#3b3735" stroke-width="1.5" stroke-linecap="butt"/>
<line x1="381.05" y1="1104.3" x2="388.72" y2="1126.57" stroke="#3b3735" stroke-width="1.5" stroke-linecap="butt"/>
<rect x="589.1" y="1102.88" width="25.2" height="24.8" stroke="#3b3735" stroke-width="2" fill="none"/>
<circle cx="601.7" cy="1115.28" r="11.8" stroke="#3b3735" stroke-width="1.5" fill="none"/>
<line x1="596.33" y1="1104.78" x2="603.93" y2="1126.87" stroke="#3b3735" stroke-width="1.5" stroke-linecap="butt"/>
<line x1="599.47" y1="1103.69" x2="607.07" y2="1125.78" stroke="#3b3735" stroke-width="1.5" stroke-linecap="butt"/>
<line x1="614.3" y1="1102.88" x2="642.8" y2="1102.88" stroke="#3b3735" stroke-width="1.5" stroke-linecap="butt"/>
<line x1="614.3" y1="1127.68" x2="642.8" y2="1127.68" stroke="#3b3735" stroke-width="1.5" stroke-linecap="butt"/>
<line x1="342.9" y1="1135.24" x2="370.4" y2="1135.24" stroke="#3b3735" stroke-width="1.5" stroke-linecap="butt"/>
<line x1="342.9" y1="1160.24" x2="370.4" y2="1160.24" stroke="#3b3735" stroke-width="1.5" stroke-linecap="butt"/>
<rect x="370.4" y="1135.24" width="25.8" height="25" stroke="#3b3735" stroke-width="2" fill="none"/>
<circle cx="383.3" cy="1147.74" r="11.9" stroke="#3b3735" stroke-width="1.5" fill="none"/>
<line x1="377.88" y1="1137.15" x2="385.55" y2="1159.42" stroke="#3b3735" stroke-width="1.5" stroke-linecap="butt"/>
<line x1="381.05" y1="1136.06" x2="388.72" y2="1158.33" stroke="#3b3735" stroke-width="1.5" stroke-linecap="butt"/>
<rect x="589.1" y="1134.64" width="25.2" height="24.8" stroke="#3b3735" stroke-width="2" fill="none"/>
<circle cx="601.7" cy="1147.04" r="11.8" stroke="#3b3735" stroke-width="1.5" fill="none"/>
<line x1="596.33" y1="1136.54" x2="603.93" y2="1158.63" stroke="#3b3735" stroke-width="1.5" stroke-linecap="butt"/>
<line x1="599.47" y1="1135.45" x2="607.07" y2="1157.54" stroke="#3b3735" stroke-width="1.5" stroke-linecap="butt"/>
<line x1="614.3" y1="1134.64" x2="642.8" y2="1134.64" stroke="#3b3735" stroke-width="1.5" stroke-linecap="butt"/>
<line x1="614.3" y1="1159.44" x2="642.8" y2="1159.44" stroke="#3b3735" stroke-width="1.5" stroke-linecap="butt"/>
<polyline points="643,861.2 758.8,861.2 847,988" stroke="#231815" stroke-width="3" fill="none" stroke-linejoin="round"/>
<polyline points="643,895.3 758.8,895.3 847,988" stroke="#c8a063" stroke-width="2.4" fill="none" stroke-linejoin="round"/>
<polyline points="643,927 768,927 847,988.5" stroke="#009944" stroke-width="2.4" fill="none" stroke-linejoin="round"/>
<polyline points="643,956.6 768,956.6 847.5,989" stroke="#e60012" stroke-width="2.4" fill="none" stroke-linejoin="round"/>
<path d="M 847 987.5 L 853.5 1002 Q 858.5 1013.5 849 1024.5 L 796 1091" stroke="#231815" stroke-width="7.5" fill="none" stroke-linecap="butt"/>
<path d="M 726.4 1151.8 L 787.4 1088.7 Q 789.4 1086.6 791.4 1088.6 L 798.3 1095.4 Q 800.4 1097.4 798.6 1099.5 L 744.3 1167.3 Z" stroke="#231815" stroke-width="2.2" fill="#f7f7f7" stroke-linejoin="round"/>
<path d="M 726.4 1151.8 L 744.3 1167.3 L 732.7 1181 L 712.7 1164.4 Z" stroke="#231815" stroke-width="2.2" fill="#f7f7f7" stroke-linejoin="round"/>
<path d="M 715.5 1169.6 L 667 1226 L 681 1235 L 728.4 1178.7" stroke="#231815" stroke-width="2.2" fill="#f7f7f7"/>
<path d="M 667 1225.5 L 681.5 1235 L 669.5 1249.5 L 655.2 1236.6 Z" fill="#231815"/>
<text x="393.8" y="80.81" font-family="'Liberation Sans', sans-serif" font-weight="400" font-size="47.96" fill="#0a0a0a" textLength="197.07" lengthAdjust="spacingAndGlyphs" stroke="#0a0a0a" stroke-width="0.9" stroke-linejoin="round">仪表接线</text>
<text x="412.09" y="109.87" font-family="'Liberation Sans', sans-serif" font-weight="400" font-size="19.68" fill="#111111" textLength="161.26" lengthAdjust="spacingAndGlyphs" stroke="#d1cfd0" stroke-width="0.35" stroke-linejoin="round">Instrument wiring</text>
<text transform="scale(0.98,1)" x="55.31 80.78 106.6 132.3 157.89" y="188.54" font-family="'Liberation Sans', sans-serif" font-weight="400" font-size="23.21" fill="#111" stroke="#111" stroke-width="0.55" stroke-linejoin="round">仪表接线图</text>
<text transform="scale(0.98,1)" x="53.28 79.73 105.01 130.42 155.71" y="626.18" font-family="'Liberation Sans', sans-serif" font-weight="400" font-size="23.13" fill="#111" stroke="#111" stroke-width="0.55" stroke-linejoin="round">电极接线图</text>
<text transform="scale(1.06,1)" x="127.17 147.61" y="258.28" font-family="'Liberation Sans', sans-serif" font-weight="400" font-size="19.19" fill="#231815" stroke="#231815" stroke-width="0.2" stroke-linejoin="round">报警</text>
<text x="87.45" y="302.64" font-family="'Liberation Sans', sans-serif" font-weight="400" font-size="16.2" fill="#231815">3</text>
<text x="87.76" y="337.67" font-family="'Liberation Sans', sans-serif" font-weight="400" font-size="16.91" fill="#231815">4</text>
<text x="87.44" y="374.74" font-family="'Liberation Sans', sans-serif" font-weight="400" font-size="16.43" fill="#231815">5</text>
<text x="87.29" y="409.64" font-family="'Liberation Sans', sans-serif" font-weight="400" font-size="16.2" fill="#231815">6</text>
<text transform="scale(0.76,1)" x="144.68 157.12" y="317.6" font-family="'Liberation Sans', sans-serif" font-weight="400" font-size="17.1" fill="#231815" stroke="#231815" stroke-width="0.25" stroke-linejoin="round">NO</text>
<text transform="scale(0.72,1)" x="201.94 217.15 232.17" y="317.3" font-family="'Liberation Sans', sans-serif" font-weight="400" font-size="19.71" fill="#231815" stroke="#231815" stroke-width="0.15" stroke-linejoin="round">AL2</text>
<text transform="scale(1.06,1)" x="175.64 194.8 214.16 233.02" y="317.23" font-family="'Liberation Sans', sans-serif" font-weight="400" font-size="19.65" fill="#231815" stroke="#231815" stroke-width="0.2" stroke-linejoin="round">温度报警</text>
<text transform="scale(0.76,1)" x="144.68 157.12" y="389.8" font-family="'Liberation Sans', sans-serif" font-weight="400" font-size="17.1" fill="#231815" stroke="#231815" stroke-width="0.25" stroke-linejoin="round">NO</text>
<text transform="scale(0.72,1)" x="201.94 215.22 227.99" y="389.5" font-family="'Liberation Sans', sans-serif" font-weight="400" font-size="20" fill="#231815" stroke="#231815" stroke-width="0.15" stroke-linejoin="round">AL1</text>
<text transform="scale(1.06,1)" x="175.64 194.74 214.12 233.02" y="389.43" font-family="'Liberation Sans', sans-serif" font-weight="400" font-size="19.65" fill="#231815" stroke="#231815" stroke-width="0.2" stroke-linejoin="round">浓度报警</text>
<text transform="scale(1.06,1)" x="105.66 123.71 142.61 161.89" y="460.11" font-family="'Liberation Sans', sans-serif" font-weight="400" font-size="18.87" fill="#231815" stroke="#231815" stroke-width="0.2" stroke-linejoin="round">供电电源</text>
<text x="86.48" y="502.82" font-family="'Liberation Sans', sans-serif" font-weight="400" font-size="17.89" fill="#231815">8</text>
<text x="86.31" y="542.72" font-family="'Liberation Sans', sans-serif" font-weight="400" font-size="17.89" fill="#231815">9</text>
<text x="119.44" y="493.4" font-family="'Liberation Sans', sans-serif" font-weight="400" font-size="21.16" fill="#231815" textLength="13.15" lengthAdjust="spacingAndGlyphs">N</text>
<text x="120.65" y="557.3" font-family="'Liberation Sans', sans-serif" font-weight="400" font-size="20.58" fill="#231815" textLength="11.5" lengthAdjust="spacingAndGlyphs">L</text>
<text transform="scale(0.8,1)" x="172.25 184.24 201.1 209.34 222.17 236.13 249.05 261.7 274.34 286.98 299.72 312.27 323.89" y="523.61" font-family="'Liberation Sans', sans-serif" font-weight="400" font-size="18.73" fill="#231815" stroke="#231815" stroke-width="0.15" stroke-linejoin="round">AC/DC100–240V</text>
<text x="364.5" y="253.1" font-family="'Liberation Serif', serif" font-weight="400" font-size="16.97" fill="#231815" stroke="#231815" stroke-width="0.1" stroke-linejoin="round">1</text>
<text x="601.47" y="252.9" font-family="'Liberation Serif', serif" font-weight="400" font-size="16.82" fill="#231815" stroke="#231815" stroke-width="0.1" stroke-linejoin="round">11</text>
<text x="364.86" y="280.98" font-family="'Liberation Serif', serif" font-weight="400" font-size="17.23" fill="#231815" stroke="#231815" stroke-width="0.1" stroke-linejoin="round">2</text>
<text x="601.14" y="280.78" font-family="'Liberation Serif', serif" font-weight="400" font-size="16.82" fill="#231815" stroke="#231815" stroke-width="0.1" stroke-linejoin="round">12</text>
<text x="364.67" y="308.69" font-family="'Liberation Serif', serif" font-weight="400" font-size="16.97" fill="#231815" stroke="#231815" stroke-width="0.1" stroke-linejoin="round">3</text>
<text x="601.1" y="308.49" font-family="'Liberation Serif', serif" font-weight="400" font-size="16.57" fill="#231815" stroke="#231815" stroke-width="0.1" stroke-linejoin="round">13</text>
<text x="364.69" y="336.74" font-family="'Liberation Serif', serif" font-weight="400" font-size="17.23" fill="#231815" stroke="#231815" stroke-width="0.1" stroke-linejoin="round">4</text>
<text x="600.8" y="336.54" font-family="'Liberation Serif', serif" font-weight="400" font-size="16.82" fill="#231815" stroke="#231815" stroke-width="0.1" stroke-linejoin="round">14</text>
<text x="364.59" y="364.45" font-family="'Liberation Serif', serif" font-weight="400" font-size="16.97" fill="#231815" stroke="#231815" stroke-width="0.1" stroke-linejoin="round">5</text>
<text x="601.1" y="364.25" font-family="'Liberation Serif', serif" font-weight="400" font-size="16.57" fill="#231815" stroke="#231815" stroke-width="0.1" stroke-linejoin="round">15</text>
<text x="364.74" y="392.17" font-family="'Liberation Serif', serif" font-weight="400" font-size="16.72" fill="#231815" stroke="#231815" stroke-width="0.1" stroke-linejoin="round">6</text>
<text x="601.15" y="391.97" font-family="'Liberation Serif', serif" font-weight="400" font-size="16.32" fill="#231815" stroke="#231815" stroke-width="0.1" stroke-linejoin="round">16</text>
<text x="364.35" y="420.38" font-family="'Liberation Serif', serif" font-weight="400" font-size="17.23" fill="#231815" stroke="#231815" stroke-width="0.1" stroke-linejoin="round">7</text>
<text x="600.89" y="420.18" font-family="'Liberation Serif', serif" font-weight="400" font-size="16.82" fill="#231815" stroke="#231815" stroke-width="0.1" stroke-linejoin="round">17</text>
<text x="364.82" y="447.93" font-family="'Liberation Serif', serif" font-weight="400" font-size="16.72" fill="#231815" stroke="#231815" stroke-width="0.1" stroke-linejoin="round">8</text>
<text x="601.23" y="447.73" font-family="'Liberation Serif', serif" font-weight="400" font-size="16.32" fill="#231815" stroke="#231815" stroke-width="0.1" stroke-linejoin="round">18</text>
<text x="364.84" y="475.97" font-family="'Liberation Serif', serif" font-weight="400" font-size="16.97" fill="#231815" stroke="#231815" stroke-width="0.1" stroke-linejoin="round">9</text>
<text x="601.1" y="475.77" font-family="'Liberation Serif', serif" font-weight="400" font-size="16.57" fill="#231815" stroke="#231815" stroke-width="0.1" stroke-linejoin="round">19</text>
<text x="360.35" y="503.69" font-family="'Liberation Serif', serif" font-weight="400" font-size="16.47" fill="#231815" stroke="#231815" stroke-width="0.1" stroke-linejoin="round">10</text>
<text x="601.52" y="503.49" font-family="'Liberation Serif', serif" font-weight="400" font-size="16.57" fill="#231815" stroke="#231815" stroke-width="0.1" stroke-linejoin="round">20</text>
<text transform="scale(1.06,1)" x="762.24 786.81" y="189.46" font-family="'Liberation Sans', sans-serif" font-weight="400" font-size="20.92" fill="#231815" stroke="#231815" stroke-width="0.2" stroke-linejoin="round">输入</text>
<text x="755.85" y="224.8" font-family="'Liberation Sans', sans-serif" font-weight="400" font-size="16.38" fill="#231815" textLength="17.45" lengthAdjust="spacingAndGlyphs" stroke="#231815" stroke-width="0.15" stroke-linejoin="round">11</text>
<text transform="scale(0.85,1)" x="981" y="227.9" font-family="'Liberation Sans', sans-serif" font-weight="400" font-size="20.14" fill="#231815" stroke="#231815" stroke-width="0.15" stroke-linejoin="round">A</text>
<text x="755.95" y="259.95" font-family="'Liberation Sans', sans-serif" font-weight="400" font-size="16.14" fill="#231815" textLength="17.37" lengthAdjust="spacingAndGlyphs" stroke="#231815" stroke-width="0.15" stroke-linejoin="round">12</text>
<text transform="scale(0.85,1)" x="980.28" y="262.7" font-family="'Liberation Sans', sans-serif" font-weight="400" font-size="19.86" fill="#231815" stroke="#231815" stroke-width="0.15" stroke-linejoin="round">K</text>
<text x="755.96" y="294.94" font-family="'Liberation Sans', sans-serif" font-weight="400" font-size="15.92" fill="#231815" textLength="17.19" lengthAdjust="spacingAndGlyphs" stroke="#231815" stroke-width="0.15" stroke-linejoin="round">13</text>
<text x="834.4" y="296" font-family="'Liberation Mono', monospace" font-weight="400" font-size="18.77" fill="#231815" textLength="48.01" lengthAdjust="spacingAndGlyphs" stroke="#231815" stroke-width="0.1" stroke-linejoin="round">T/P2</text>
<text x="755.98" y="330.25" font-family="'Liberation Sans', sans-serif" font-weight="400" font-size="16.38" fill="#231815" textLength="17.02" lengthAdjust="spacingAndGlyphs" stroke="#231815" stroke-width="0.15" stroke-linejoin="round">14</text>
<text x="834.43" y="331" font-family="'Liberation Mono', monospace" font-weight="400" font-size="18.9" fill="#231815" textLength="46.03" lengthAdjust="spacingAndGlyphs" stroke="#231815" stroke-width="0.1" stroke-linejoin="round">T/P1</text>
<text transform="scale(1.06,1)" x="758.53 782.47" y="388.79" font-family="'Liberation Sans', sans-serif" font-weight="400" font-size="20.82" fill="#231815" stroke="#231815" stroke-width="0.2" stroke-linejoin="round">通讯</text>
<text x="804.17" y="424.33" font-family="'Liberation Sans', sans-serif" font-weight="400" font-size="16.86" fill="#231815" textLength="18.54" lengthAdjust="spacingAndGlyphs" stroke="#231815" stroke-width="0.15" stroke-linejoin="round">15</text>
<text x="804.17" y="464.23" font-family="'Liberation Sans', sans-serif" font-weight="400" font-size="16.62" fill="#231815" textLength="18.54" lengthAdjust="spacingAndGlyphs" stroke="#231815" stroke-width="0.15" stroke-linejoin="round">16</text>
<text x="836.55" y="419.8" font-family="'Liberation Sans', sans-serif" font-weight="400" font-size="16.81" fill="#231815" textLength="12.08" lengthAdjust="spacingAndGlyphs">B</text>
<text x="837.6" y="455.2" font-family="'Liberation Sans', sans-serif" font-weight="400" font-size="18.26" fill="#231815" textLength="10.51" lengthAdjust="spacingAndGlyphs">A</text>
<text x="857.31" y="446.55" font-family="'Liberation Sans', sans-serif" font-weight="400" font-size="15.35" fill="#231815" textLength="45.34" lengthAdjust="spacingAndGlyphs" stroke="#231815" stroke-width="0.3" stroke-linejoin="round">RS485</text>
<text transform="scale(1.06,1)" x="739.39 762.22 784.84 808.09" y="518.66" font-family="'Liberation Sans', sans-serif" font-weight="400" font-size="21.02" fill="#231815" stroke="#231815" stroke-width="0.2" stroke-linejoin="round">变送输出</text>
<text x="753.55" y="558.8" font-family="'Liberation Sans', sans-serif" font-weight="400" font-size="16.52" fill="#231815" textLength="18.73" lengthAdjust="spacingAndGlyphs" stroke="#231815" stroke-width="0.15" stroke-linejoin="round">17</text>
<text x="753.57" y="595.84" font-family="'Liberation Sans', sans-serif" font-weight="400" font-size="16.06" fill="#231815" textLength="18.54" lengthAdjust="spacingAndGlyphs" stroke="#231815" stroke-width="0.15" stroke-linejoin="round">18</text>
<text x="793.94" y="547.81" font-family="'Liberation Sans', sans-serif" font-weight="400" font-size="21.22" fill="#231815">+</text>
<text transform="scale(0.85,1)" x="944.65 959.25" y="575.6" font-family="'Liberation Sans', sans-serif" font-weight="400" font-size="17.54" fill="#231815" stroke="#231815" stroke-width="0.2" stroke-linejoin="round">mA</text>
<text transform="scale(0.82,1)" x="919.32 930.07 941.2 951.63" y="625.5" font-family="'Liberation Sans', sans-serif" font-weight="400" font-size="15.94" fill="#231815" stroke="#231815" stroke-width="0.25" stroke-linejoin="round">OUT1</text>
<text x="885.22" y="559.43" font-family="'Liberation Sans', sans-serif" font-weight="400" font-size="16.06" fill="#231815" textLength="19.18" lengthAdjust="spacingAndGlyphs" stroke="#231815" stroke-width="0.15" stroke-linejoin="round">19</text>
<text x="885.77" y="596.9" font-family="'Liberation Sans', sans-serif" font-weight="400" font-size="16.06" fill="#231815" textLength="18.43" lengthAdjust="spacingAndGlyphs" stroke="#231815" stroke-width="0.15" stroke-linejoin="round">20</text>
<text x="925.89" y="548.42" font-family="'Liberation Sans', sans-serif" font-weight="400" font-size="20.2" fill="#231815">+</text>
<text transform="scale(0.85,1)" x="1099.79 1114.6" y="576.3" font-family="'Liberation Sans', sans-serif" font-weight="400" font-size="16.38" fill="#231815" stroke="#231815" stroke-width="0.2" stroke-linejoin="round">mA</text>
<text transform="scale(0.82,1)" x="1072.62 1084.17 1096.13 1107.6" y="625.5" font-family="'Liberation Sans', sans-serif" font-weight="400" font-size="15.94" fill="#231815" stroke="#231815" stroke-width="0.25" stroke-linejoin="round">OUT2</text>
<text transform="scale(1.06,1)" x="116.2 133.03 149.94" y="659.94" font-family="'Liberation Sans', sans-serif" font-weight="400" font-size="16.55" fill="#231815" stroke="#231815" stroke-width="0.2" stroke-linejoin="round">电源端</text>
<text transform="scale(0.85,1)" x="221.65 231.16 242.76 252.88 263 272.17" y="659.9" font-family="'Liberation Sans', sans-serif" font-weight="400" font-size="17.39" fill="#231815" stroke="#231815" stroke-width="0.3" stroke-linejoin="round">AC220V</text>
<text x="122.16" y="686.1" font-family="'Liberation Sans', sans-serif" font-weight="700" font-size="17.68" fill="#e60012" textLength="9.94" lengthAdjust="spacingAndGlyphs">L</text>
<text x="122.23" y="725" font-family="'Liberation Sans', sans-serif" font-weight="700" font-size="19.28" fill="#231815" textLength="11.08" lengthAdjust="spacingAndGlyphs">N</text>
<text x="351.58" y="868.4" font-family="'Liberation Serif', serif" font-weight="700" font-size="21.52" fill="#231815" textLength="9.47" lengthAdjust="spacingAndGlyphs" stroke="#231815" stroke-width="0.35" stroke-linejoin="round">1</text>
<text x="620.18" y="869" font-family="'Liberation Serif', serif" font-weight="700" font-size="20.91" fill="#231815" textLength="17.39" lengthAdjust="spacingAndGlyphs" stroke="#231815" stroke-width="0.35" stroke-linejoin="round">11</text>
<text x="351.87" y="899.94" font-family="'Liberation Serif', serif" font-weight="700" font-size="21.52" fill="#231815" textLength="9.47" lengthAdjust="spacingAndGlyphs" stroke="#231815" stroke-width="0.35" stroke-linejoin="round">2</text>
<text x="619.67" y="900.55" font-family="'Liberation Serif', serif" font-weight="700" font-size="20.6" fill="#231815" textLength="18.13" lengthAdjust="spacingAndGlyphs" stroke="#231815" stroke-width="0.35" stroke-linejoin="round">12</text>
<text x="351.84" y="931.5" font-family="'Liberation Serif', serif" font-weight="700" font-size="21.19" fill="#231815" textLength="9.33" lengthAdjust="spacingAndGlyphs" stroke="#231815" stroke-width="0.35" stroke-linejoin="round">3</text>
<text x="619.72" y="932.11" font-family="'Liberation Serif', serif" font-weight="700" font-size="20.29" fill="#231815" textLength="17.86" lengthAdjust="spacingAndGlyphs" stroke="#231815" stroke-width="0.35" stroke-linejoin="round">13</text>
<text x="351.89" y="963.68" font-family="'Liberation Serif', serif" font-weight="700" font-size="21.85" fill="#231815" textLength="9.61" lengthAdjust="spacingAndGlyphs" stroke="#231815" stroke-width="0.35" stroke-linejoin="round">4</text>
<text x="619.35" y="964.28" font-family="'Liberation Serif', serif" font-weight="700" font-size="20.91" fill="#231815" textLength="18.4" lengthAdjust="spacingAndGlyphs" stroke="#231815" stroke-width="0.35" stroke-linejoin="round">14</text>
<text x="351.87" y="995.22" font-family="'Liberation Serif', serif" font-weight="700" font-size="21.52" fill="#231815" textLength="9.47" lengthAdjust="spacingAndGlyphs" stroke="#231815" stroke-width="0.35" stroke-linejoin="round">5</text>
<text x="619.67" y="995.83" font-family="'Liberation Serif', serif" font-weight="700" font-size="20.6" fill="#231815" textLength="18.13" lengthAdjust="spacingAndGlyphs" stroke="#231815" stroke-width="0.35" stroke-linejoin="round">15</text>
<text x="351.94" y="1026.78" font-family="'Liberation Serif', serif" font-weight="700" font-size="21.19" fill="#231815" textLength="9.33" lengthAdjust="spacingAndGlyphs" stroke="#231815" stroke-width="0.35" stroke-linejoin="round">6</text>
<text x="619.72" y="1027.39" font-family="'Liberation Serif', serif" font-weight="700" font-size="20.29" fill="#231815" textLength="17.86" lengthAdjust="spacingAndGlyphs" stroke="#231815" stroke-width="0.35" stroke-linejoin="round">16</text>
<text x="351.41" y="1058.96" font-family="'Liberation Serif', serif" font-weight="700" font-size="21.85" fill="#231815" textLength="9.61" lengthAdjust="spacingAndGlyphs" stroke="#231815" stroke-width="0.35" stroke-linejoin="round">7</text>
<text x="619.35" y="1059.56" font-family="'Liberation Serif', serif" font-weight="700" font-size="20.91" fill="#231815" textLength="18.4" lengthAdjust="spacingAndGlyphs" stroke="#231815" stroke-width="0.35" stroke-linejoin="round">17</text>
<text x="351.94" y="1090.3" font-family="'Liberation Serif', serif" font-weight="700" font-size="21.19" fill="#231815" textLength="9.33" lengthAdjust="spacingAndGlyphs" stroke="#231815" stroke-width="0.35" stroke-linejoin="round">8</text>
<text x="619.72" y="1090.91" font-family="'Liberation Serif', serif" font-weight="700" font-size="20.29" fill="#231815" textLength="17.86" lengthAdjust="spacingAndGlyphs" stroke="#231815" stroke-width="0.35" stroke-linejoin="round">18</text>
<text x="352.03" y="1122.06" font-family="'Liberation Serif', serif" font-weight="700" font-size="21.19" fill="#231815" textLength="9.33" lengthAdjust="spacingAndGlyphs" stroke="#231815" stroke-width="0.35" stroke-linejoin="round">9</text>
<text x="619.81" y="1122.67" font-family="'Liberation Serif', serif" font-weight="700" font-size="20.29" fill="#231815" textLength="17.86" lengthAdjust="spacingAndGlyphs" stroke="#231815" stroke-width="0.35" stroke-linejoin="round">19</text>
<text x="347.04" y="1153.82" font-family="'Liberation Serif', serif" font-weight="700" font-size="20.88" fill="#231815" textLength="18.38" lengthAdjust="spacingAndGlyphs" stroke="#231815" stroke-width="0.35" stroke-linejoin="round">10</text>
<text x="620.04" y="1154.43" font-family="'Liberation Serif', serif" font-weight="700" font-size="20.6" fill="#231815" textLength="18.13" lengthAdjust="spacingAndGlyphs" stroke="#231815" stroke-width="0.35" stroke-linejoin="round">20</text>
<text x="674" y="856.7" font-family="'Liberation Sans', sans-serif" font-weight="400" font-size="16.67" fill="#231815" textLength="8.49" lengthAdjust="spacingAndGlyphs">A</text>
<text x="672.91" y="890.6" font-family="'Liberation Sans', sans-serif" font-weight="400" font-size="15.8" fill="#231815" textLength="9.13" lengthAdjust="spacingAndGlyphs">K</text>
<text x="663.61" y="923.9" font-family="'Liberation Mono', monospace" font-weight="400" font-size="15.75" fill="#231815" textLength="35.64" lengthAdjust="spacingAndGlyphs" stroke="#231815" stroke-width="0.1" stroke-linejoin="round">T/P2</text>
<text x="663.63" y="954" font-family="'Liberation Mono', monospace" font-weight="400" font-size="15.48" fill="#231815" textLength="34.08" lengthAdjust="spacingAndGlyphs" stroke="#231815" stroke-width="0.1" stroke-linejoin="round">T/P1</text>
<text transform="scale(1.06,1)" x="714.15 733.54 753.13 771.85 792.2" y="1168.89" font-family="'Liberation Sans', sans-serif" font-weight="400" font-size="19.13" fill="#231815" stroke="#231815" stroke-width="0.2" stroke-linejoin="round">溶解氧电极</text>
<text transform="scale(0.85,1)" x="871.34 882.37 891.43" y="1198" font-family="'Liberation Sans', sans-serif" font-weight="400" font-size="17.1" fill="#231815" stroke="#231815" stroke-width="0.35" stroke-linejoin="round">NTC</text>
<text transform="scale(0.85,1)" x="913.73 924.98 934.77" y="1198" font-family="'Liberation Sans', sans-serif" font-weight="400" font-size="17.1" fill="#231815" stroke="#231815" stroke-width="0.35" stroke-linejoin="round">22K</text>
<text transform="scale(1.06,1)" x="758.83 775.58 792.16 809.23" y="1197.24" font-family="'Liberation Sans', sans-serif" font-weight="400" font-size="16.03" fill="#231815" stroke="#231815" stroke-width="0.25" stroke-linejoin="round">温度补偿</text>
</svg>
</body></html>
